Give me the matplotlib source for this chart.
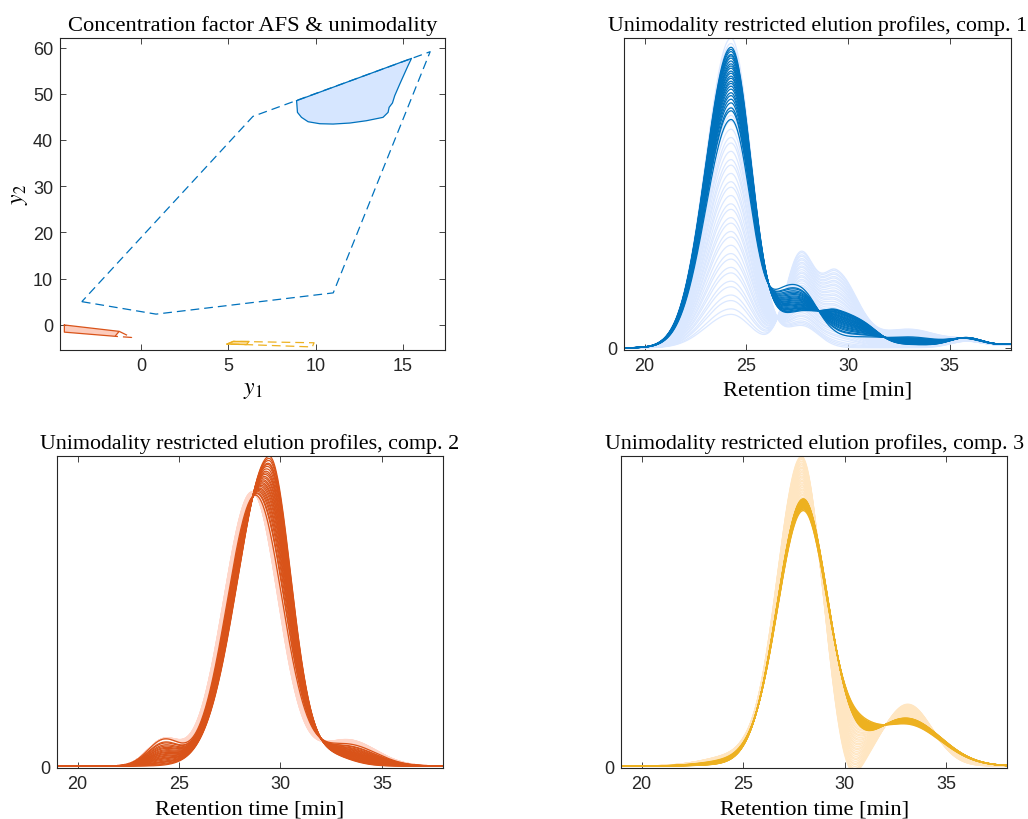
import numpy as np
import matplotlib
matplotlib.use("Agg")
import matplotlib.pyplot as plt

plt.rcParams['font.family'] = ['Liberation Sans', 'DejaVu Sans']
plt.rcParams['mathtext.fontset'] = 'stix'

# ---- AFS panel ----
afs_y1 = [-3.4, 0.85, 11.0, 16.55, 6.4, -3.4]
afs_y2 = [5.0, 2.3, 6.9, 59.1, 45.1, 5.0]
blue_y1 = [8.9, 15.48, 15.28, 14.81, 14.52, 14.39, 14.2, 14.14, 13.85, 12.9, 11.95, 10.99,
           10.23, 9.56, 9.18, 8.95, 8.9]
blue_y2 = [48.5, 57.65, 56.06, 52.1, 49.57, 47.99, 47.06, 45.97, 44.89, 44.16, 43.66, 43.44,
           43.51, 43.94, 44.89, 45.97, 48.5]
red_y1 = [-4.4, -1.26, -1.5, -4.4, -4.4]
red_y2 = [-0.05, -1.43, -2.5, -1.6, -0.05]
red_dash_y1 = [-1.26, -0.55, -1.5]
red_dash_y2 = [-1.43, -2.75, -2.5]
yel_y1 = [4.92, 5.27, 6.18, 6.03, 4.92]
yel_y2 = [-4.18, -3.6, -3.6, -4.3, -4.18]
yel_dash_y1 = [4.92, 5.27, 9.9, 9.8, 6.03, 4.92]
yel_dash_y2 = [-4.18, -3.6, -3.9, -4.8, -4.3, -4.18]

# ---- elution profiles: peaks (centre, left/right width) and heights of the extreme curves ----
c1_centers = [24.25, 26.7, 27.75, 29.45, 31.0, 33.0, 35.8, 38.6, 27.65, 29.45]
c1_sig_l = [1.25, 0.6, 0.8, 0.8, 0.7, 1.5, 0.8, 1.4, 0.72, 0.72]
c1_sig_r = [1.0, 0.6, 0.8, 1.1, 0.7, 1.5, 0.8, 1.4, 0.72, 1.0]
c1_dark_top = [0.97, 0.03, 0.10, 0.11, 0.03, 0.01, 0.03, 0.012, 0, 0]
c1_dark_low = [0.737, 0.085, 0.17, 0.03, 0.01, 0.035, 0.023, 0.012, 0, 0]
c1_light_top = [1.0, 0, 0.07, 0, 0, 0, 0.02, 0.01, 0, 0]
c1_light_low = [0.108, 0, 0, 0, 0, 0.06, 0.018, 0.01, 0.30, 0.235]

c2_centers = [29.45, 28.77, 28.6, 24.25, 32.3, 33.3]
c2_sig_l = [1.55, 1.4, 1.4, 0.8, 1.1, 1.4]
c2_sig_r = [1.06, 1.32, 1.28, 0.8, 1.1, 1.4]
c2_dark_top = [1.0, 0, 0, 0, 0.035, 0]
c2_dark_low = [0, 0.875, 0, 0.083, 0, 0.07]
c2_light_top = [0, 0, 0.886, 0.083, 0, 0.085]
c2_light_low = [0, 0.875, 0, 0.083, 0, 0.07]

c3_centers = [27.95, 27.87, 24.8, 30.8, 33.0, 33.1, 30.2]
c3_sig_l = [1.28, 1.2, 1.6, 0.8, 1.7, 1.2, 0.6]
c3_sig_r = [1.23, 1.0, 0.8, 0.8, 1.7, 1.2, 0.6]
c3_dark_top = [0.861, 0, 0.005, 0, 0.155, 0, 0]
c3_dark_low = [0.823, 0, 0.02, 0.05, 0.135, 0, 0]
c3_light_top = [0, 1.0, 0.035, 0, 0, 0.2, -0.08]
c3_light_low = [0.823, 0, 0.02, 0.05, 0.135, 0, 0]

dark_w = [1.0, .97, .94, .90, .88, .85, .81, .77, .74, .71, .67, .64, .60, .57, .53,
          .50, .46, .42, .37, .33, .28, .23, .16, .12, 0]
light_w = [0, .02, .05, .07, .10, .12, .15, .17, .20, .22, .25, .28, .30, .33, .35, .38,
           .40, .43, .46, .48, .51, .54, .56, .59, .62, .64, .67, .70, .72, .75, .78, .80,
           .83, .86, .88, .91, .94, .96, .98, 1.0]

t = np.linspace(19, 38, 700)


def profile(heights, centers, sig_l, sig_r):
    y = np.zeros_like(t)
    for h, c, sl, sr in zip(heights, centers, sig_l, sig_r):
        s = np.where(t < c, sl, sr)
        y += h * np.exp(-0.5 * ((t - c) / s) ** 2)
    return y


W, H = 1028, 820
fig = plt.figure(figsize=(W / 100, H / 100), dpi=100)


def box(l, top, r, b):
    return [l / W, 1 - b / H, (r - l) / W, (b - top) / H]


edge = (0.15, 0.15, 0.15)
serif = 'Liberation Serif'


def style(ax):
    for s in ax.spines.values():
        s.set_color(edge)
        s.set_linewidth(0.8)
    ax.tick_params(direction='in', top=True, right=True, length=4, width=0.6, pad=5,
                   colors=edge, labelsize=13, labelcolor=edge)


# top-left: AFS
ax = fig.add_axes(box(60, 39.3, 445, 350.7))
style(ax)
ax.fill(blue_y1, blue_y2, color=(0.84, 0.9, 1.0), lw=0)
ax.plot(blue_y1, blue_y2, color='#0072BD', lw=0.9)
ax.plot(afs_y1, afs_y2, color='#0072BD', lw=0.9, ls=(0, (7, 4)))
ax.fill(red_y1, red_y2, color=(0.99, 0.8, 0.74), lw=0)
ax.plot(red_y1, red_y2, color='#D95319', lw=0.9)
ax.plot(red_dash_y1, red_dash_y2, color='#D95319', lw=0.9, ls=(0, (7, 4)))
ax.fill(yel_y1, yel_y2, color=(0.99, 0.87, 0.62), lw=0)
ax.plot(yel_y1, yel_y2, color='#EDB120', lw=0.9)
ax.plot(yel_dash_y1, yel_dash_y2, color='#EDB120', lw=0.9, ls=(0, (7, 4)))
ax.set_xlim(-4.65, 17.4)
ax.set_ylim(-5.4, 62)
ax.set_xticks([0, 5, 10, 15])
ax.set_yticks([0, 10, 20, 30, 40, 50, 60])
ax.set_title('Concentration factor AFS & unimodality', family=serif, fontsize=16.2, pad=6)
ax.set_xlabel(r'$y_1$', fontsize=17, labelpad=3)
ax.set_ylabel(r'$y_2$', fontsize=17, labelpad=2)

panels = [
    (box(624.3, 39, 1010.7, 351), 1, '#0072BD', (0.86, 0.91, 1.0),
     c1_centers, c1_sig_l, c1_sig_r, c1_dark_top, c1_dark_low, c1_light_top, c1_light_low),
    (box(57.3, 457.3, 442.7, 769.3), 2, '#D95319', (1.0, 0.84, 0.79),
     c2_centers, c2_sig_l, c2_sig_r, c2_dark_top, c2_dark_low, c2_light_top, c2_light_low),
    (box(621.3, 457.3, 1007.3, 769.3), 3, '#EDB120', (1.0, 0.9, 0.76),
     c3_centers, c3_sig_l, c3_sig_r, c3_dark_top, c3_dark_low, c3_light_top, c3_light_low),
]

for rect, k, dark, light, cen, sl, sr, dtop, dlow, ltop, llow in panels:
    ax = fig.add_axes(rect)
    style(ax)
    d_top = profile(dtop, cen, sl, sr)
    d_low = profile(dlow, cen, sl, sr)
    l_top = profile(ltop, cen, sl, sr)
    l_low = profile(llow, cen, sl, sr)
    ymax = 0
    for w in light_w:
        y = l_low + w * (l_top - l_low)
        ymax = max(ymax, y.max())
        ax.plot(t, y, color=light, lw=0.9)
    for w in dark_w:
        y = d_low + w * (d_top - d_low)
        ymax = max(ymax, y.max())
        ax.plot(t, y, color=dark, lw=0.9)
    ax.set_xlim(19, 38)
    ax.set_ylim(-0.007 * ymax, ymax)
    ax.set_xticks([20, 25, 30, 35])
    ax.set_yticks([0])
    ax.set_title('Unimodality restricted elution profiles, comp. %d' % k,
                 family=serif, fontsize=15.8, pad=6)
    ax.set_xlabel('Retention time [min]', family=serif, fontsize=16.2, labelpad=5)

fig.savefig('out.png', dpi=100)
